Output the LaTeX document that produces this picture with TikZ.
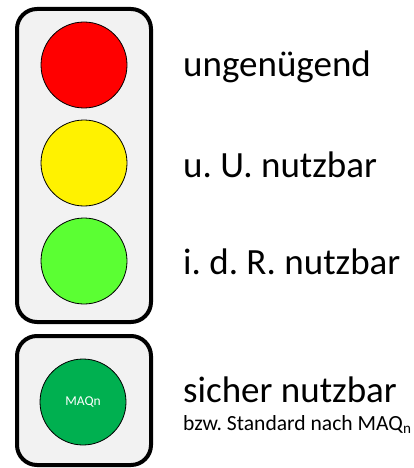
\documentclass[tikz,border=0pt]{standalone}
\usepackage{fontspec}
\setmainfont{Carlito}
\usepackage{tikz}
\usetikzlibrary{calc}
\definecolor{housing}{HTML}{F2F2F2}
\definecolor{lightgreen}{HTML}{5BFF33}
\definecolor{darkgreen}{HTML}{00B050}
\frenchspacing

\begin{document}
\begin{tikzpicture}[x=1pt, y=-1pt,
		lamp/.style={circle, draw=black, line width=0.8pt, minimum size=86pt, inner sep=0pt},
		box/.style={draw=black, fill=housing, line width=4pt, rounded corners=20pt},
		label/.style={anchor=base west, inner sep=0pt, font=\fontsize{37}{40}\selectfont}]
		\useasboundingbox (0,0) rectangle (414,468);
		\draw[box] (17,9) rectangle (151,322);
		\draw[box] (17,336) rectangle (151,465);
		\node[lamp, fill=red] (R) at (84,65) {};
		\node[lamp, fill=yellow] (Y) at (84,163) {};
		\node[lamp, fill=lightgreen] (G) at (84,261) {};
		\node[lamp, fill=darkgreen, text=white, font=\fontsize{13.5}{15}\selectfont] (M) at (83,402) {MAQn};
		\node[label] (Rtext) at (183,77) {ungenügend};
		\node[label] (Ytext) at (183,177) {u. U. nutzbar};
		\node[label] (Gtext) at (183,274) {i. d. R. nutzbar};
		\node[label] (Mtext) at (183,402) {sicher nutzbar};
		\node[anchor=base west, inner sep=0pt, font=\fontsize{21.6}{24}\selectfont] (Mnote) at (183,430) {bzw. Standard nach MAQ\textsubscript{n}};
	\end{tikzpicture}
\end{document}
